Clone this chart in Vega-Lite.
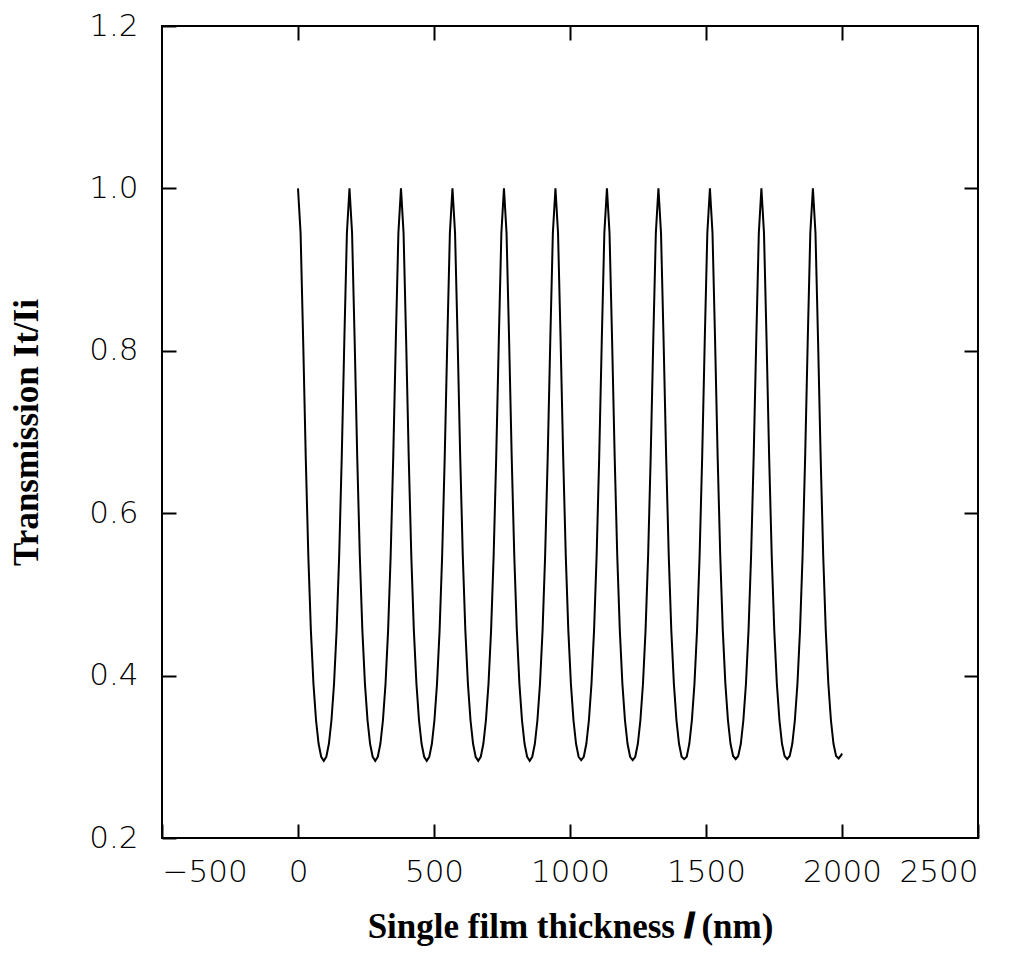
{
  "$schema": "https://vega.github.io/schema/vega-lite/v6.json",
  "width": 816,
  "height": 812,
  "autosize": "none",
  "padding": {"left": 162, "top": 26, "right": 47, "bottom": 115},
  "background": "white",
  "config": {
    "view": {"stroke": "black", "strokeWidth": 2},
    "axis": {
      "domain": false, "grid": false,
      "tickColor": "black", "tickWidth": 2, "tickSize": -14,
      "labelColor": "black", "labelFont": "DejaVu Sans", "labelFontSize": 31, "labelFontWeight": 200,
      "titleColor": "black", "titleFont": "Liberation Serif", "titleFontSize": 35, "titleFontWeight": "bold"
    }
  },
  "data": {"values": [
    {"x":0,"t":1.000},{"x":9.5,"t":0.945},{"x":18.9,"t":0.814},{"x":28.4,"t":0.670},{"x":37.9,"t":0.548},{"x":47.3,"t":0.456},{"x":56.8,"t":0.390},{"x":66.3,"t":0.345},{"x":75.7,"t":0.316},{"x":85.2,"t":0.300},{"x":94.7,"t":0.295},{"x":104.1,"t":0.300},{"x":113.6,"t":0.316},{"x":123.0,"t":0.345},{"x":132.5,"t":0.390},{"x":142.0,"t":0.456},{"x":151.4,"t":0.548},{"x":160.9,"t":0.670},{"x":170.4,"t":0.814},{"x":179.8,"t":0.945},
    {"x":189.3,"t":1.000},{"x":198.8,"t":0.945},{"x":208.2,"t":0.814},{"x":217.7,"t":0.670},{"x":227.2,"t":0.548},{"x":236.6,"t":0.456},{"x":246.1,"t":0.390},{"x":255.6,"t":0.345},{"x":265.0,"t":0.316},{"x":274.5,"t":0.300},{"x":284.0,"t":0.295},{"x":293.4,"t":0.300},{"x":302.9,"t":0.316},{"x":312.3,"t":0.345},{"x":321.8,"t":0.390},{"x":331.3,"t":0.456},{"x":340.7,"t":0.548},{"x":350.2,"t":0.670},{"x":359.7,"t":0.814},{"x":369.1,"t":0.945},
    {"x":378.6,"t":1.000},{"x":388.1,"t":0.945},{"x":397.5,"t":0.814},{"x":407.0,"t":0.670},{"x":416.5,"t":0.548},{"x":425.9,"t":0.456},{"x":435.4,"t":0.390},{"x":444.9,"t":0.345},{"x":454.3,"t":0.316},{"x":463.8,"t":0.300},{"x":473.3,"t":0.295},{"x":482.7,"t":0.300},{"x":492.2,"t":0.316},{"x":501.6,"t":0.345},{"x":511.1,"t":0.390},{"x":520.6,"t":0.456},{"x":530.0,"t":0.548},{"x":539.5,"t":0.670},{"x":549.0,"t":0.814},{"x":558.4,"t":0.945},
    {"x":567.9,"t":1.000},{"x":577.4,"t":0.945},{"x":586.8,"t":0.814},{"x":596.3,"t":0.670},{"x":605.8,"t":0.548},{"x":615.2,"t":0.456},{"x":624.7,"t":0.390},{"x":634.2,"t":0.345},{"x":643.6,"t":0.316},{"x":653.1,"t":0.300},{"x":662.6,"t":0.295},{"x":672.0,"t":0.300},{"x":681.5,"t":0.316},{"x":690.9,"t":0.345},{"x":700.4,"t":0.390},{"x":709.9,"t":0.456},{"x":719.3,"t":0.548},{"x":728.8,"t":0.670},{"x":738.3,"t":0.814},{"x":747.7,"t":0.945},
    {"x":757.2,"t":1.000},{"x":766.7,"t":0.945},{"x":776.1,"t":0.814},{"x":785.6,"t":0.670},{"x":795.1,"t":0.548},{"x":804.5,"t":0.456},{"x":814.0,"t":0.390},{"x":823.5,"t":0.345},{"x":832.9,"t":0.316},{"x":842.4,"t":0.300},{"x":851.9,"t":0.295},{"x":861.3,"t":0.300},{"x":870.8,"t":0.316},{"x":880.2,"t":0.345},{"x":889.7,"t":0.390},{"x":899.2,"t":0.456},{"x":908.6,"t":0.548},{"x":918.1,"t":0.670},{"x":927.6,"t":0.814},{"x":937.0,"t":0.945},
    {"x":946.5,"t":1.000},{"x":956.0,"t":0.945},{"x":965.4,"t":0.814},{"x":974.9,"t":0.670},{"x":984.4,"t":0.548},{"x":993.8,"t":0.456},{"x":1003.3,"t":0.390},{"x":1012.8,"t":0.345},{"x":1022.2,"t":0.316},{"x":1031.7,"t":0.300},{"x":1041.2,"t":0.296},{"x":1050.6,"t":0.300},{"x":1060.1,"t":0.316},{"x":1069.5,"t":0.345},{"x":1079.0,"t":0.390},{"x":1088.5,"t":0.456},{"x":1097.9,"t":0.548},{"x":1107.4,"t":0.670},{"x":1116.9,"t":0.814},{"x":1126.3,"t":0.945},
    {"x":1135.8,"t":1.000},{"x":1145.3,"t":0.945},{"x":1154.7,"t":0.814},{"x":1164.2,"t":0.670},{"x":1173.7,"t":0.548},{"x":1183.1,"t":0.456},{"x":1192.6,"t":0.390},{"x":1202.1,"t":0.345},{"x":1211.5,"t":0.316},{"x":1221.0,"t":0.300},{"x":1230.5,"t":0.296},{"x":1239.9,"t":0.300},{"x":1249.4,"t":0.316},{"x":1258.8,"t":0.345},{"x":1268.3,"t":0.390},{"x":1277.8,"t":0.456},{"x":1287.2,"t":0.548},{"x":1296.7,"t":0.670},{"x":1306.2,"t":0.814},{"x":1315.6,"t":0.945},
    {"x":1325.1,"t":1.000},{"x":1334.6,"t":0.945},{"x":1344.0,"t":0.814},{"x":1353.5,"t":0.670},{"x":1363.0,"t":0.548},{"x":1372.4,"t":0.456},{"x":1381.9,"t":0.390},{"x":1391.4,"t":0.345},{"x":1400.8,"t":0.316},{"x":1410.3,"t":0.300},{"x":1419.8,"t":0.297},{"x":1429.2,"t":0.300},{"x":1438.7,"t":0.316},{"x":1448.1,"t":0.345},{"x":1457.6,"t":0.390},{"x":1467.1,"t":0.456},{"x":1476.5,"t":0.548},{"x":1486.0,"t":0.670},{"x":1495.5,"t":0.814},{"x":1504.9,"t":0.945},
    {"x":1514.4,"t":1.000},{"x":1523.9,"t":0.945},{"x":1533.3,"t":0.814},{"x":1542.8,"t":0.670},{"x":1552.3,"t":0.548},{"x":1561.7,"t":0.456},{"x":1571.2,"t":0.390},{"x":1580.7,"t":0.345},{"x":1590.1,"t":0.316},{"x":1599.6,"t":0.301},{"x":1609.1,"t":0.297},{"x":1618.5,"t":0.301},{"x":1628.0,"t":0.316},{"x":1637.4,"t":0.345},{"x":1646.9,"t":0.390},{"x":1656.4,"t":0.456},{"x":1665.8,"t":0.548},{"x":1675.3,"t":0.670},{"x":1684.8,"t":0.814},{"x":1694.2,"t":0.945},
    {"x":1703.7,"t":1.000},{"x":1713.2,"t":0.945},{"x":1722.6,"t":0.814},{"x":1732.1,"t":0.670},{"x":1741.6,"t":0.548},{"x":1751.0,"t":0.456},{"x":1760.5,"t":0.390},{"x":1770.0,"t":0.345},{"x":1779.4,"t":0.316},{"x":1788.9,"t":0.301},{"x":1798.4,"t":0.297},{"x":1807.8,"t":0.301},{"x":1817.3,"t":0.316},{"x":1826.7,"t":0.345},{"x":1836.2,"t":0.390},{"x":1845.7,"t":0.456},{"x":1855.1,"t":0.548},{"x":1864.6,"t":0.670},{"x":1874.1,"t":0.814},{"x":1883.5,"t":0.945},
    {"x":1893.0,"t":1.000},{"x":1902.5,"t":0.945},{"x":1911.9,"t":0.814},{"x":1921.4,"t":0.670},{"x":1930.9,"t":0.548},{"x":1940.3,"t":0.456},{"x":1949.8,"t":0.390},{"x":1959.3,"t":0.345},{"x":1968.7,"t":0.316},{"x":1978.2,"t":0.301},{"x":1987.7,"t":0.298},{"x":1997.1,"t":0.302},{"x":2000.0,"t":0.304}
  ]},
  "layer": [
    {
      "mark": {"type": "line", "color": "black", "strokeWidth": 2},
      "encoding": {
        "x": {"field": "x", "type": "quantitative",
          "scale": {"domain": [-500, 2500], "nice": false, "zero": false},
          "axis": {"orient": "bottom", "values": [-500, 0, 500, 1000, 1500, 2000, 2500], "format": "d",
            "title": "Single film thickness 𝒍 (nm)", "labelPadding": 33, "titlePadding": 22}},
        "y": {"field": "t", "type": "quantitative",
          "scale": {"domain": [0.2, 1.2], "nice": false, "zero": false},
          "axis": {"orient": "left", "values": [0.2, 0.4, 0.6, 0.8, 1.0, 1.2], "format": ".1f",
            "title": "Transmission It/Ii", "labelPadding": 38, "titlePadding": 44}}
      }
    },
    {
      "mark": {"type": "line", "opacity": 0},
      "encoding": {
        "x": {"field": "x", "type": "quantitative",
          "axis": {"orient": "top", "values": [0, 500, 1000, 1500, 2000], "labels": false, "title": null}},
        "y": {"field": "t", "type": "quantitative",
          "axis": {"orient": "right", "values": [0.4, 0.6, 0.8, 1.0], "labels": false, "title": null}}
      }
    }
  ],
  "resolve": {"axis": {"x": "independent", "y": "independent"}}
}
